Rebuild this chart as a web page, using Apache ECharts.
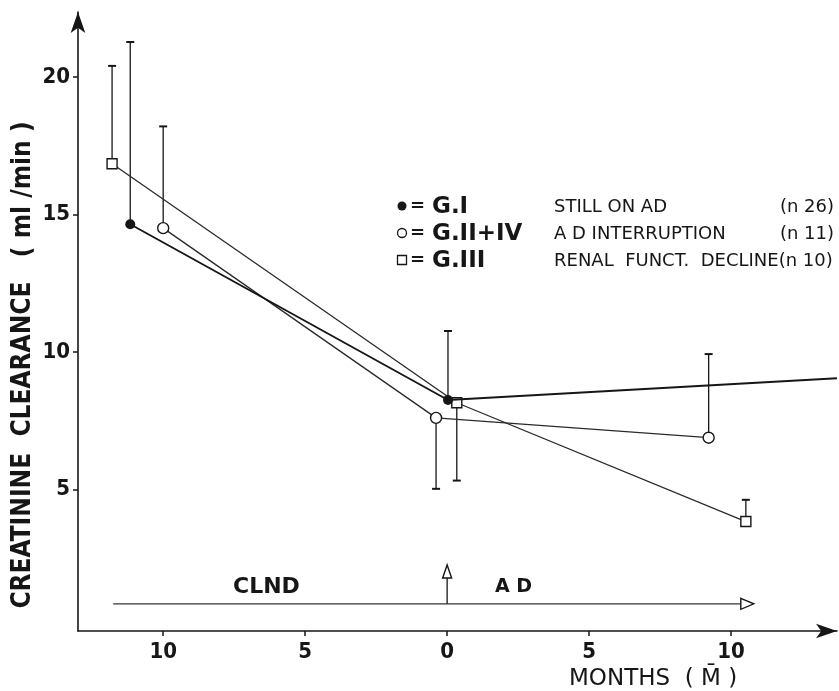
<!DOCTYPE html>
<html>
<head>
<meta charset="utf-8">
<script src="https://cdn.jsdelivr.net/npm/echarts@6/dist/echarts.min.js"></script>
<style>html,body{margin:0;padding:0;background:#fff}#c{width:839px;height:691px}</style>
</head>
<body>
<div id="c"></div>
<script>
// ---- data (months relative to start of AD; negative = before, during CLND) ----
const monthsGI = [-11.16, 0.03, 13.73];
const valuesGI = [14.64, 8.25, 9.04];
const errTopGI = [21.27, 10.76, null];

const monthsGII = [-10.0, -0.39, 9.21];
const valuesGII = [14.5, 7.6, 6.88];
const errEndGII = [18.2, 5.02, 9.92];

const monthsGIII = [-11.8, 0.34, 10.52];
const valuesGIII = [16.84, 8.15, 3.83];
const errEndGIII = [20.4, 5.32, 4.62];

const xTickValues = [-10, -5, 0, 5, 10];
const yTickValues = [5, 10, 15, 20];

const timelineStart = -11.76;
const timelineEnd = 10.8;
const timelineLevel = 0.84;
const adStartMonth = 0;
const adArrowTop = 2.25;

const legendGroups = ['G.I', 'G.II+IV', 'G.III'];
const legendDescs = ['STILL ON AD', 'A D INTERRUPTION', 'RENAL  FUNCT.  DECLINE(n 10)'];
const legendCounts = ['(n 26)', '(n 11)', ''];

// ---- build ----
const INK = '#161616';
const COND = "'DejaVu Sans Condensed','DejaVu Sans',sans-serif";
const SANS = "'DejaVu Sans',sans-serif";

function pairs(xs, ys) { return xs.map((x, i) => [x, ys[i]]); }
function errData(xs, ys, es) {
  const out = [];
  xs.forEach((x, i) => { if (es[i] != null) out.push([x, ys[i], es[i]]); });
  return out;
}
const giData = pairs(monthsGI, valuesGI).map((p, i) => i === monthsGI.length - 1 ? { value: p, symbol: 'none' } : p);

function renderErr(params, api) {
  const p0 = api.coord([api.value(0), api.value(1)]);
  const p1 = api.coord([api.value(0), api.value(2)]);
  return {
    type: 'group',
    children: [
      { type: 'line', shape: { x1: p0[0], y1: p0[1], x2: p1[0], y2: p1[1] }, style: { stroke: INK, lineWidth: 1.3 } },
      { type: 'line', shape: { x1: p1[0] - 4, y1: p1[1], x2: p1[0] + 4, y2: p1[1] }, style: { stroke: INK, lineWidth: 2 } }
    ]
  };
}

function renderTimeline(params, api) {
  const a = api.coord([api.value(0), api.value(2)]);
  const b = api.coord([api.value(1), api.value(2)]);
  const c = api.coord([api.value(3), api.value(2)]);
  const d = api.coord([api.value(3), api.value(4)]);
  const L = 13, H = 5.5;
  return {
    type: 'group',
    children: [
      { type: 'line', shape: { x1: a[0], y1: a[1], x2: b[0] - L, y2: b[1] }, style: { stroke: '#333', lineWidth: 1.3 } },
      { type: 'polygon', shape: { points: [[b[0] - L, b[1] - H], [b[0], b[1]], [b[0] - L, b[1] + H]] }, style: { fill: '#fff', stroke: INK, lineWidth: 1.4 } },
      { type: 'line', shape: { x1: c[0], y1: c[1], x2: d[0], y2: d[1] + L }, style: { stroke: INK, lineWidth: 1.3 } },
      { type: 'polygon', shape: { points: [[d[0] - 4.5, d[1] + L], [d[0], d[1]], [d[0] + 4.5, d[1] + L]] }, style: { fill: '#fff', stroke: INK, lineWidth: 1.4 } }
    ]
  };
}

const legendY = [206, 233, 260];
const graphics = [];
legendGroups.forEach((g, i) => {
  const y = legendY[i];
  if (i === 0) graphics.push({ type: 'circle', shape: { cx: 402, cy: y, r: 4.5 }, style: { fill: INK } });
  if (i === 1) graphics.push({ type: 'circle', shape: { cx: 402, cy: y, r: 4.5 }, style: { fill: '#fff', stroke: INK, lineWidth: 1.3 } });
  if (i === 2) graphics.push({ type: 'rect', shape: { x: 397.5, y: y - 4.5, width: 9, height: 9 }, style: { fill: '#fff', stroke: INK, lineWidth: 1.3 } });
  graphics.push({ type: 'text', x: 410, y: y, style: { text: '=', font: 'bold 18px ' + SANS, fill: INK, textVerticalAlign: 'middle' } });
  graphics.push({ type: 'text', x: 432, y: y + 1, style: { text: g, font: 'bold 23px ' + SANS, fill: INK, textVerticalAlign: 'middle' } });
  graphics.push({ type: 'text', x: 554, y: y + 1, style: { text: legendDescs[i], font: '18px ' + SANS, fill: INK, textVerticalAlign: 'middle' } });
  if (legendCounts[i]) graphics.push({ type: 'text', x: 834, y: y + 1, style: { text: legendCounts[i], font: '18px ' + SANS, fill: INK, textAlign: 'right', textVerticalAlign: 'middle' } });
});
graphics.push({ type: 'text', x: 233, y: 587, style: { text: 'CLND', font: 'bold 22px ' + SANS, fill: INK, textVerticalAlign: 'middle' } });
graphics.push({ type: 'text', x: 495, y: 587, style: { text: 'A D', font: 'bold 19px ' + SANS, fill: INK, textVerticalAlign: 'middle' } });
graphics.push({ type: 'text', x: 569, y: 679, style: { text: 'MONTHS  ( M\u0304 )', font: '23px ' + SANS, fill: INK, textVerticalAlign: 'middle' } });
graphics.push({ type: 'text', x: 23, y: 365, rotation: Math.PI / 2, style: { text: 'CREATININE  CLEARANCE   ( ml /min )', font: 'bold 26px ' + COND, fill: INK, textAlign: 'center', textVerticalAlign: 'middle' } });

const chart = echarts.init(document.getElementById('c'), null, { renderer: 'canvas' });
chart.setOption({
  backgroundColor: '#fff',
  animation: false,
  grid: { left: 78, right: 2, top: 12, bottom: 60, containLabel: false },
  xAxis: {
    type: 'value', min: -13, max: 13.73,
    axisLine: { onZero: false, symbol: ['none', 'arrow'], symbolSize: [11, 21], lineStyle: { color: INK, width: 1.6 } },
    axisTick: { customValues: xTickValues, length: 5, lineStyle: { color: INK, width: 1.5 } },
    axisLabel: { customValues: xTickValues, formatter: v => String(Math.abs(v)), color: INK, fontSize: 22, fontWeight: 'bold', fontFamily: COND, margin: 10 },
    splitLine: { show: false }
  },
  yAxis: {
    type: 'value', min: -0.15, max: 22.36,
    axisLine: { onZero: false, symbol: ['none', 'arrow'], symbolSize: [11, 21], lineStyle: { color: INK, width: 1.6 } },
    axisTick: { customValues: yTickValues, length: 5, lineStyle: { color: INK, width: 1.5 } },
    axisLabel: { customValues: yTickValues, color: INK, fontSize: 22, fontWeight: 'bold', fontFamily: COND, margin: 8 },
    splitLine: { show: false }
  },
  graphic: graphics,
  series: [
    { type: 'custom', renderItem: renderErr, data: errData(monthsGI, valuesGI, errTopGI), encode: { x: 0, y: [1, 2] }, z: 1, silent: true },
    { type: 'custom', renderItem: renderErr, data: errData(monthsGII, valuesGII, errEndGII), encode: { x: 0, y: [1, 2] }, z: 1, silent: true },
    { type: 'custom', renderItem: renderErr, data: errData(monthsGIII, valuesGIII, errEndGIII), encode: { x: 0, y: [1, 2] }, z: 1, silent: true },
    { type: 'custom', renderItem: renderTimeline, data: [[timelineStart, timelineEnd, timelineLevel, adStartMonth, adArrowTop]], encode: { x: [0, 1, 3], y: [2, 4] }, z: 1, silent: true },
    { name: 'G.I', type: 'line', data: giData, clip: false, symbol: 'circle', symbolSize: 10, z: 4,
      lineStyle: { color: INK, width: 1.9 }, itemStyle: { color: INK, borderWidth: 0 } },
    { name: 'G.II+IV', type: 'line', data: pairs(monthsGII, valuesGII), symbol: 'circle', symbolSize: 11, z: 3,
      lineStyle: { color: '#2a2a2a', width: 1.3 }, itemStyle: { color: '#fff', borderColor: INK, borderWidth: 1.4 } },
    { name: 'G.III', type: 'line', data: pairs(monthsGIII, valuesGIII), symbol: 'rect', symbolSize: 10, z: 3,
      lineStyle: { color: '#2a2a2a', width: 1.3 }, itemStyle: { color: '#fff', borderColor: INK, borderWidth: 1.4 } }
  ]
});
</script>
</body>
</html>
